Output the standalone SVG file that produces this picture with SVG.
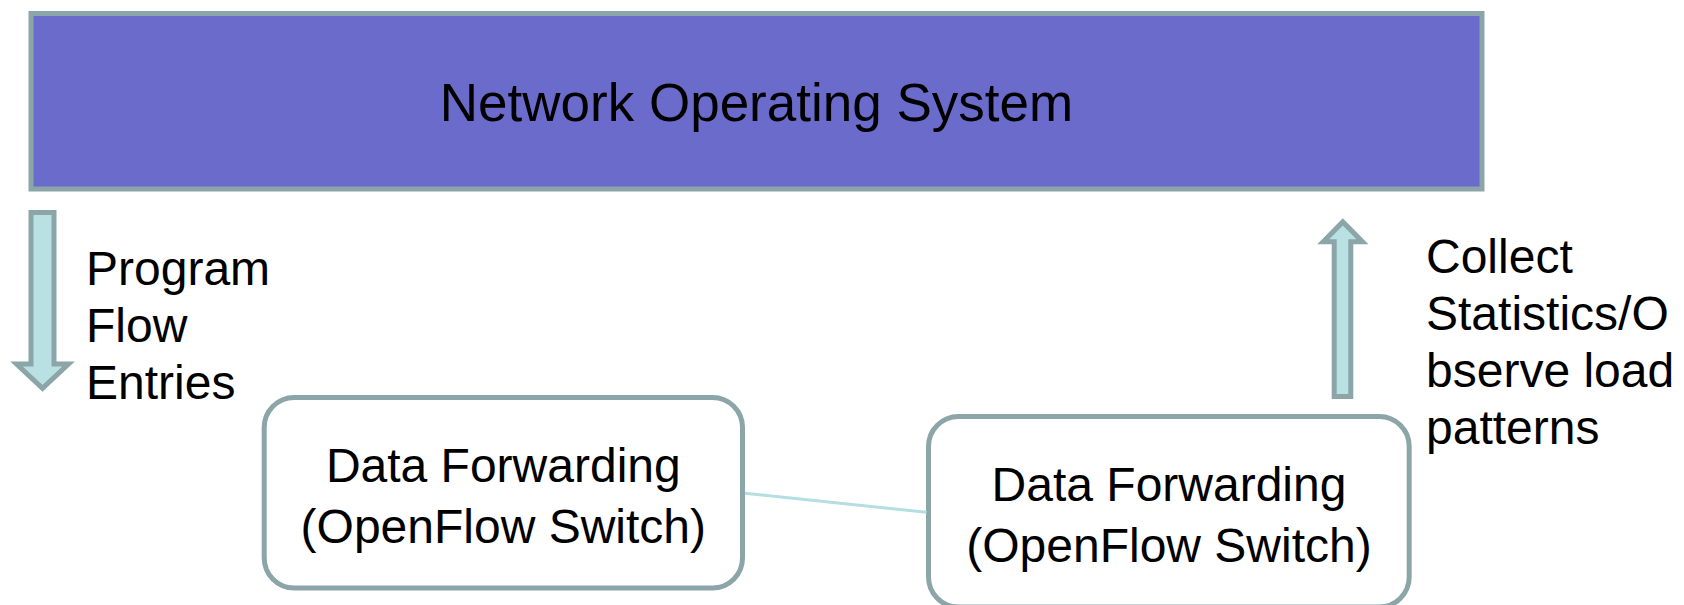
<svg xmlns="http://www.w3.org/2000/svg" width="1684" height="605" viewBox="0 0 1684 605">
  <style>
    .txt { font-family: "Liberation Sans", Arial, sans-serif; fill: #000000; }
    .title { font-size: 53px; }
    .lbl { font-size: 48px; }
    .nos { fill: #6B6BCC; stroke: #8BA5A8; stroke-width: 5; }
    .sw { fill: #FFFFFF; stroke: #8BA5A8; stroke-width: 5; }
    .arrow { fill: #B9E0E3; stroke: #8BA5A8; stroke-width: 5; stroke-linejoin: miter; }
    .link { stroke: #B4DEE2; stroke-width: 3; fill: none; }
  </style>
  <rect width="1684" height="605" fill="#FFFFFF"/>
  <g id="nos">
    <rect class="nos" x="31" y="13.5" width="1451" height="175.5"/>
    <text class="txt title" x="756.5" y="121" text-anchor="middle">Network Operating System</text>
  </g>
  <g id="switch1">
    <rect class="sw" x="264.2" y="397.5" width="478.3" height="190.5" rx="30" ry="30"/>
    <text class="txt lbl" x="503.3" y="481.7" text-anchor="middle">Data Forwarding</text>
    <text class="txt lbl" x="503.3" y="543.3" text-anchor="middle">(OpenFlow Switch)</text>
  </g>
  <g id="switch2">
    <rect class="sw" x="928.5" y="416.5" width="480.7" height="190.5" rx="30" ry="30"/>
    <text class="txt lbl" x="1169" y="500.7" text-anchor="middle">Data Forwarding</text>
    <text class="txt lbl" x="1169" y="562.3" text-anchor="middle">(OpenFlow Switch)</text>
  </g>
  <g id="program-label">
    <text class="txt lbl" x="86" y="285">Program</text>
    <text class="txt lbl" x="86" y="342">Flow</text>
    <text class="txt lbl" x="86" y="399">Entries</text>
  </g>
  <g id="collect-label">
    <text class="txt lbl" x="1426" y="273">Collect</text>
    <text class="txt lbl" x="1426" y="330">Statistics/O</text>
    <text class="txt lbl" x="1426" y="387">bserve load</text>
    <text class="txt lbl" x="1426" y="444">patterns</text>
  </g>
  <g id="connectors">
    <path id="arrow-down" class="arrow" d="M31,212.5 L54,212.5 L54,364 L68.5,364 L42.5,388.3 L16.5,364 L31,364 Z"/>
    <path id="arrow-up" class="arrow" d="M1334.2,396.5 L1350.8,396.5 L1350.8,241.8 L1362.5,241.8 L1342.8,221.9 L1323.2,241.8 L1334.2,241.8 Z"/>
    <line id="link" class="link" x1="745" y1="493.3" x2="926.5" y2="512.3"/>
  </g>
</svg>
